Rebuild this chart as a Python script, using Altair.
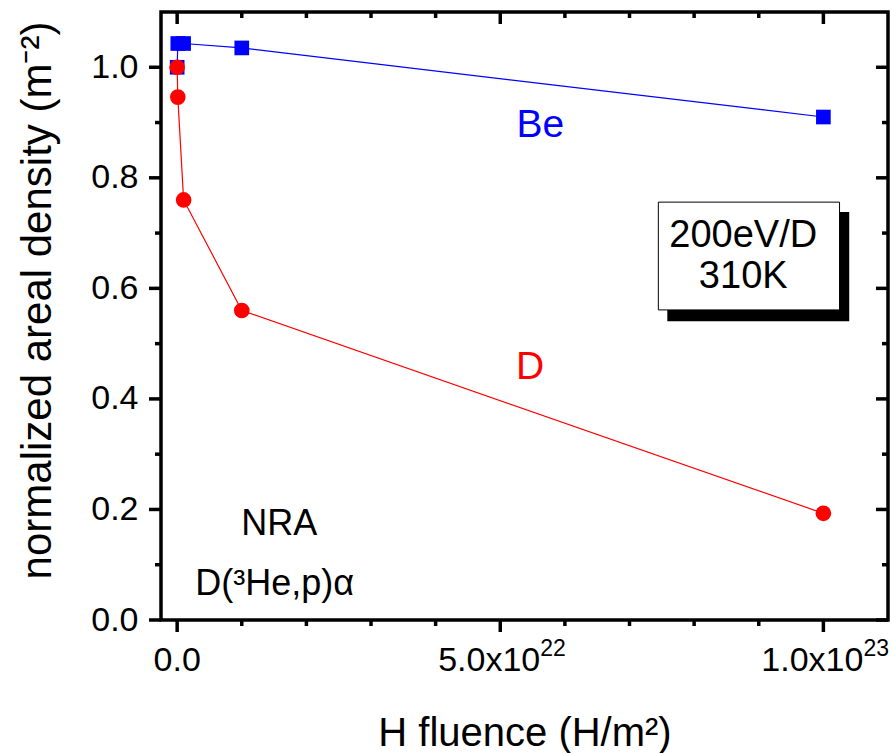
import altair as alt
import pandas as pd

# Measured areal densities (normalized) versus H fluence
fluence = [0.0, 1e20, 1e21, 1e22, 1e23]
be_density = [1.0, 1.043, 1.043, 1.035, 0.91]
d_density = [1.0, 0.946, 0.76, 0.56, 0.193]

# Axis ticks and labels (mantissa part and power-of-ten exponent)
x_tick_values = [0.0, 5e22, 1e23]
x_tick_main = ["0.0", "5.0x10", "1.0x10"]
x_tick_exp = ["", "22", "23"]
x_minor_values = [1e22, 2e22, 3e22, 4e22, 6e22, 7e22, 8e22, 9e22]
y_tick_values = [0.0, 0.2, 0.4, 0.6, 0.8, 1.0]
y_minor_values = [0.1, 0.3, 0.5, 0.7, 0.9]

W, H = 727, 608
FONT = "Liberation Sans"
BLUE = "#0000ff"
RED = "#ff0000"
LW = 3.5

x_scale = alt.Scale(domain=[-2.5e21, 1.1e23], nice=False, zero=False)
y_scale = alt.Scale(domain=[0, 1.1], nice=False, zero=False)

x_axis = alt.Axis(
    values=x_tick_values, labels=False, ticks=False, tickSize=0,
    domain=False, grid=False,
    title="H fluence (H/m²)", titleFont=FONT, titleFontSize=40,
    titleFontWeight="normal", titleColor="black", titleY=125,
    titleBaseline="alphabetic",
)
y_axis = alt.Axis(
    values=y_tick_values, format=".1f", ticks=False, tickSize=0,
    domain=False, grid=False, labelFont=FONT, labelFontSize=34,
    labelColor="black", labelPadding=23, labelFlush=False, labelOverlap=False,
    title="normalized areal density (m⁻²)", titleFont=FONT, titleFontSize=42,
    titleFontWeight="normal", titleColor="black", titleAngle=270,
    titleX=-111, titleY=288, titleBaseline="alphabetic", titleAlign="center",
)

xenc = alt.X("x:Q", scale=x_scale, axis=x_axis)
yenc = alt.Y("y:Q", scale=y_scale, axis=y_axis)

be_df = pd.DataFrame({"x": fluence, "y": be_density})
d_df = pd.DataFrame({"x": fluence, "y": d_density})

be_line = alt.Chart(be_df).mark_line(color=BLUE, strokeWidth=1.2).encode(x=xenc, y=yenc)
be_pts = alt.Chart(be_df).mark_point(
    shape="square", filled=True, size=215, color=BLUE, opacity=1
).encode(x=xenc, y=yenc)
d_line = alt.Chart(d_df).mark_line(color=RED, strokeWidth=1.2).encode(x=xenc, y=yenc)
d_pts = alt.Chart(d_df).mark_circle(size=245, color=RED, opacity=1).encode(x=xenc, y=yenc)


# Tick marks on all four sides: major 12 px, minor 6 px
def x_ticks(values, length):
    df = pd.DataFrame({"x": values})
    bottom = alt.Chart(df).mark_rule(color="black").encode(
        x=xenc, y=alt.value(H), y2=alt.value(H + length), strokeWidth=alt.value(LW))
    top = alt.Chart(df).mark_rule(color="black").encode(
        x=xenc, y=alt.value(0), y2=alt.value(length), strokeWidth=alt.value(LW))
    return [bottom, top]


def y_ticks(values, length):
    df = pd.DataFrame({"y": values})
    left = alt.Chart(df).mark_rule(color="black").encode(
        y=yenc, x=alt.value(0), x2=alt.value(-length), strokeWidth=alt.value(LW))
    right = alt.Chart(df).mark_rule(color="black").encode(
        y=yenc, x=alt.value(W), x2=alt.value(W - length), strokeWidth=alt.value(LW))
    return [left, right]


tick_layers = (x_ticks(x_tick_values, 12) + x_ticks(x_minor_values, 6)
               + y_ticks(y_tick_values, 12) + y_ticks(y_minor_values, 6))

# X tick labels with raised exponents
xl_df = pd.DataFrame({"x": x_tick_values, "main": x_tick_main, "exp": x_tick_exp})
plain_df = xl_df[xl_df["exp"] == ""]
pow_df = xl_df[xl_df["exp"] != ""]
xlab_plain = alt.Chart(plain_df).mark_text(
    font=FONT, fontSize=34, color="black", align="center", baseline="alphabetic"
).encode(x=xenc, y=alt.value(H + 51), text="main:N")
xlab_main = alt.Chart(pow_df).mark_text(
    font=FONT, fontSize=34, color="black", align="right", baseline="alphabetic", dx=40
).encode(x=xenc, y=alt.value(H + 51), text="main:N")
xlab_exp = alt.Chart(pow_df).mark_text(
    font=FONT, fontSize=23, color="black", align="left", baseline="alphabetic",
    dx=40, dy=-15
).encode(x=xenc, y=alt.value(H + 51), text="exp:N")

# Condition box with drop shadow
shadow_df = pd.DataFrame({"x": [7.585e22], "x2": [1.040e23], "y": [0.5407], "y2": [0.738]})
box_df = pd.DataFrame({"x": [7.446e22], "x2": [1.025e23], "y": [0.561], "y2": [0.756]})
shadow = alt.Chart(shadow_df).mark_rect(color="black").encode(
    x=xenc, x2="x2", y=yenc, y2="y2")
box = alt.Chart(box_df).mark_rect(fill="white", stroke="black", strokeWidth=1).encode(
    x=xenc, x2="x2", y=yenc, y2="y2")


def label(x, y, text, color="black", size=35):
    df = pd.DataFrame({"x": [x], "y": [y], "t": [text]})
    return alt.Chart(df).mark_text(
        font=FONT, fontSize=size, color=color, align="center",
        baseline="alphabetic").encode(x=xenc, y=yenc, text="t:N")


labels = [
    label(5.62e22, 0.873, "Be", BLUE, 39),
    label(5.46e22, 0.436, "D", RED, 39),
    label(8.76e22, 0.674, "200eV/D", size=38),
    label(8.76e22, 0.600, "310K", size=38),
    label(1.58e22, 0.154, "NRA", size=36),
    label(1.51e22, 0.045, "D(³He,p)α", size=36),
]

chart = alt.layer(
    be_line, be_pts, d_line, d_pts, shadow, box, *labels, *tick_layers,
    xlab_plain, xlab_main, xlab_exp
).properties(
    width=W, height=H, autosize="none", background="white",
    padding={"left": 161, "top": 12, "right": 3, "bottom": 133},
).configure_view(stroke="#000000", strokeWidth=LW, strokeOpacity=1)

chart.save("out.html", embed_options={"renderer": "svg", "actions": False})
